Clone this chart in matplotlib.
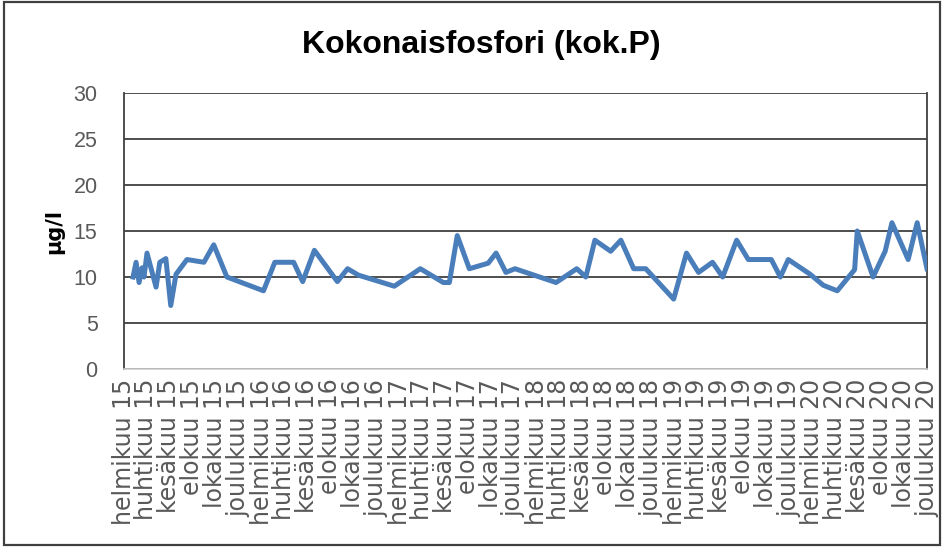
import matplotlib
matplotlib.use('Agg')
import matplotlib.pyplot as plt
import matplotlib.dates as mdates
from matplotlib.patches import Rectangle
from matplotlib.ticker import FuncFormatter
import numpy as np
import pandas as pd

# sampling dates and total phosphorus (µg/l)
dates = [
    '2015-02-25', '2015-03-05', '2015-03-13', '2015-03-21', '2015-03-26',
    '2015-04-03', '2015-04-27', '2015-05-07', '2015-05-23', '2015-06-05',
    '2015-06-19', '2015-07-18', '2015-09-01', '2015-09-27', '2015-11-01',
    '2016-02-06', '2016-03-07', '2016-04-26', '2016-05-20', '2016-06-20',
    '2016-08-20', '2016-09-16', '2016-10-15', '2017-01-18', '2017-03-28',
    '2017-05-28', '2017-06-13', '2017-07-04', '2017-08-05', '2017-09-24',
    '2017-10-15', '2017-11-10', '2017-12-04', '2018-03-23', '2018-05-17',
    '2018-06-10', '2018-07-04', '2018-08-15', '2018-09-11', '2018-10-15',
    '2018-11-16', '2019-01-29', '2019-03-04', '2019-04-05', '2019-05-12',
    '2019-06-08', '2019-07-15', '2019-08-15', '2019-10-15', '2019-11-08',
    '2019-11-29', '2020-01-26', '2020-03-01', '2020-04-07', '2020-05-23',
    '2020-05-30', '2020-07-11', '2020-08-12', '2020-08-30', '2020-10-12',
    '2020-11-05', '2020-12-01',
]
kok_p = [
    10.0, 11.6, 9.4, 11.0, 10.0,
    12.6, 8.9, 11.6, 12.0, 6.9,
    10.3, 11.9, 11.6, 13.5, 10.0,
    8.5, 11.6, 11.6, 9.5, 12.9,
    9.5, 10.9, 10.2, 9.0, 10.9,
    9.4, 9.4, 14.5, 10.9, 11.5,
    12.6, 10.5, 10.9, 9.4, 10.9,
    10.0, 14.0, 12.8, 14.0, 10.9,
    10.9, 7.6, 12.6, 10.5, 11.6,
    10.0, 14.0, 11.9, 11.9, 10.0,
    11.9, 10.3, 9.1, 8.5, 10.8,
    15.0, 10.0, 12.8, 15.9, 11.9,
    15.9, 10.9,
]
month_names = {2: 'helmikuu', 4: 'huhtikuu', 6: 'kesäkuu',
               8: 'elokuu', 10: 'lokakuu', 12: 'joulukuu'}
y_ticks = [0, 5, 10, 15, 20, 25, 30]

W, H = 943, 547
fig = plt.figure(figsize=(W / 100, H / 100), dpi=100)
fig.patch.set_facecolor('white')

# chart area border
fig.patches.append(Rectangle((4 / W, 2 / H), 936 / W, 543 / H, transform=fig.transFigure,
                             fill=False, edgecolor='#404040', linewidth=1.6))

ax = fig.add_axes([124 / W, 1 - 369 / H, 803 / W, 276 / H])
x = pd.to_datetime(dates)
ax.plot(x, kok_p, color='#4A7EBB', linewidth=3.6, solid_joinstyle='round', zorder=3)

ax.set_xlim(pd.Timestamp('2015-02-01'), pd.Timestamp('2020-12-01'))
ax.set_ylim(0, 30)
ax.set_yticks(y_ticks)
ax.yaxis.grid(True, color='#404040', linewidth=1.3)
ax.set_axisbelow(True)

ax.xaxis.set_major_locator(mdates.MonthLocator(bymonth=list(month_names)))
ax.xaxis.set_major_formatter(FuncFormatter(
    lambda v, pos: f"{month_names[mdates.num2date(v).month]} {mdates.num2date(v).year % 100:02d}"))

ax.tick_params(axis='x', length=0, pad=7, rotation=90, labelsize=17, labelcolor='#595959')
ax.tick_params(axis='y', length=0, pad=19, labelsize=15.5, labelcolor='#595959')
for lab in ax.get_xticklabels():
    lab.set_family('DejaVu Sans')
for lab in ax.get_yticklabels():
    lab.set_family('Liberation Sans')

ax.spines['top'].set_visible(False)
ax.spines['bottom'].set_color('#D0D0D0')
ax.spines['bottom'].set_linewidth(1.2)
ax.spines['left'].set_color('#404040')
ax.spines['left'].set_linewidth(1.3)
ax.spines['right'].set_color('#404040')
ax.spines['right'].set_linewidth(1.3)

ax.set_ylabel('µg/l', fontsize=15, fontweight='bold', family='DejaVu Sans', labelpad=7)
fig.text(481 / W, 1 - 45 / H, 'Kokonaisfosfori (kok.P)', ha='center', va='center',
         fontsize=23, fontweight='bold', family='Liberation Sans')

fig.savefig('out.png', dpi=100, facecolor='white')
